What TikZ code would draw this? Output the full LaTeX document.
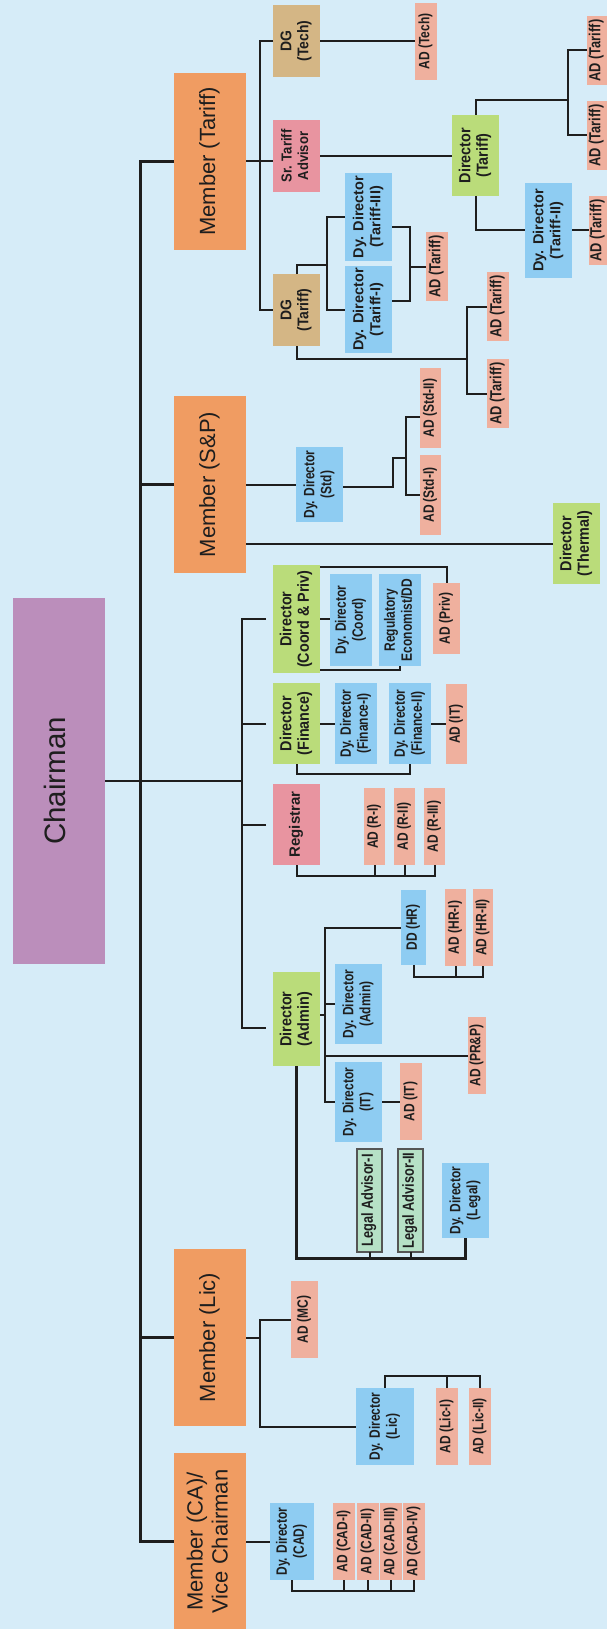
\documentclass[tikz,border=0pt]{standalone}
\usepackage{fontspec}
\setmainfont{Liberation Sans}
\newfontfamily\condA{Liberation Sans}[FakeStretch=0.8]
\newfontfamily\condB{Liberation Sans}[FakeStretch=0.9]
\usetikzlibrary{calc}
\definecolor{bg}{HTML}{D6ECF8}
\definecolor{cpurple}{HTML}{BB8EBB}
\definecolor{corange}{HTML}{F09C62}
\definecolor{ctan}{HTML}{D4B685}
\definecolor{cpink}{HTML}{E894A0}
\definecolor{cgreen}{HTML}{BADC7A}
\definecolor{cblue}{HTML}{8ECCF2}
\definecolor{csalmon}{HTML}{EFB09E}
\definecolor{clegal}{HTML}{B6E1C6}
\definecolor{cline}{HTML}{1E1E1E}
\definecolor{cborder}{HTML}{555555}
\newcommand\orgbox[7]{\node[obox,#6,minimum width={(#4-#2)*1pt},minimum height={(#5-#3)*1pt}] (#1) at ({(#2+#4)/2},{(#3+#5)/2}) {\rotatebox{90}{\begin{tabular}{@{}c@{}}#7\end{tabular}}};}
\tikzset{
  obox/.style={inner sep=0pt,outer sep=0pt,text=cline},
  mem/.style={fill=corange,font=\fontsize{22}{25}\selectfont},
  chairst/.style={fill=cpurple,font=\fontsize{29.5}{33}\selectfont},
  dg/.style={fill=ctan,font=\condB\bfseries\fontsize{15.5}{17}\selectfont},
  pk/.style={fill=cpink,font=\condB\bfseries\fontsize{14.5}{16.5}\selectfont},
  dir/.style={fill=cgreen,font=\condB\bfseries\fontsize{16}{17.5}\selectfont},
  ddb/.style={fill=cblue,font=\condA\bfseries\fontsize{15}{17}\selectfont},
  ddbig/.style={fill=cblue,font=\bfseries\fontsize{14.5}{17}\selectfont},
  ad/.style={fill=csalmon,font=\condA\bfseries\fontsize{15}{17}\selectfont},
  adbig/.style={fill=csalmon,font=\condA\bfseries\fontsize{16}{17}\selectfont},
  legal/.style={fill=clegal,draw=cborder,line width=1.2pt,font=\condA\bfseries\fontsize{16}{17}\selectfont},
  thk/.style={line width=3pt},
  mid/.style={line width=2.6pt}
}
\begin{document}
\begin{tikzpicture}[x=1pt,y=-1pt,line width=2pt,color=cline,line join=miter]
\fill[bg] (0,0) rectangle (607,1629);
\useasboundingbox (0,0) rectangle (607,1629);
% ---------- boxes ----------
\orgbox{chair}{13}{598}{105}{964}{chairst}{Chairman}
\orgbox{mtariff}{174}{73}{246}{250}{mem}{Member (Tariff)}
\orgbox{msp}{174}{396}{246}{573}{mem}{Member (S\&P)}
\orgbox{mlic}{174}{1249}{246}{1426}{mem}{Member (Lic)}
\orgbox{mca}{174}{1453}{246}{1630}{mem}{Member (CA)/\\Vice Chairman}
\orgbox{dgtech}{273}{5}{320}{77}{dg}{DG\\(Tech)}
\orgbox{dgtariff}{273}{274}{320}{346}{dg}{DG\\(Tariff)}
\orgbox{sta}{273}{120}{320}{192}{pk}{Sr. Tariff\\Advisor}
\orgbox{reg}{273}{784}{320}{865}{pk,font=\bfseries\fontsize{15}{17}\selectfont}{Registrar}
\orgbox{dtariff}{452}{115}{499}{196}{dir}{Director\\(Tariff)}
\orgbox{dthermal}{553}{503}{600}{584}{dir}{Director\\(Thermal)}
\orgbox{dcp}{273}{565}{320}{673}{dir}{Director\\(Coord \& Priv)}
\orgbox{dfin}{273}{683}{320}{764}{dir}{Director\\(Finance)}
\orgbox{dadmin}{273}{972}{320}{1066}{dir}{Director\\(Admin)}
\orgbox{ddt2}{525}{183}{572}{278}{ddbig}{Dy. Director\\(Tariff-II)}
\orgbox{ddt3}{345}{173}{392}{261}{ddbig}{Dy. Director\\(Tariff-III)}
\orgbox{ddt1}{345}{266}{392}{353}{ddbig}{Dy. Director\\(Tariff-I)}
\orgbox{ddstd}{296}{447}{343}{522}{ddb}{Dy. Director\\(Std)}
\orgbox{ddcoord}{330}{574}{372}{666}{ddb}{Dy. Director\\(Coord)}
\orgbox{regecon}{379}{574}{421}{666}{ddb}{Regulatory\\Economist/DD}
\orgbox{ddf1}{335}{683}{377}{764}{ddb}{Dy. Director\\(Finance-I)}
\orgbox{ddf2}{389}{683}{431}{764}{ddb}{Dy. Director\\(Finance-II)}
\orgbox{ddhr}{401}{890}{426}{965}{ddb}{DD (HR)}
\orgbox{ddadmin}{335}{964}{382}{1044}{ddb}{Dy. Director\\(Admin)}
\orgbox{ddit}{335}{1062}{382}{1142}{ddb}{Dy. Director\\(IT)}
\orgbox{ddlegal}{442}{1163}{489}{1238}{ddb}{Dy. Director\\(Legal)}
\orgbox{ddlic}{356}{1388}{414}{1465}{ddb}{Dy. Director\\(Lic)}
\orgbox{ddcad}{270}{1503}{314}{1580}{ddb}{Dy. Director\\(CAD)}
\orgbox{adtech}{415}{3}{437}{80}{ad}{AD (Tech)}
\orgbox{adt1}{587}{16}{607}{85}{adbig}{AD (Tariff)}
\orgbox{adt2}{587}{101}{607}{170}{adbig}{AD (Tariff)}
\orgbox{adt3}{589}{196}{607}{265}{adbig}{AD (Tariff)}
\orgbox{adt4}{487}{272}{509}{341}{adbig}{AD (Tariff)}
\orgbox{adt5}{487}{359}{509}{428}{adbig}{AD (Tariff)}
\orgbox{adt6}{426}{232}{448}{301}{adbig}{AD (Tariff)}
\orgbox{adstd2}{420}{368}{441}{448}{ad}{AD (Std-II)}
\orgbox{adstd1}{420}{455}{441}{535}{ad}{AD (Std-I)}
\orgbox{adpriv}{433}{583}{460}{654}{ad}{AD (Priv)}
\orgbox{aditf}{446}{684}{467}{764}{ad}{AD (IT)}
\orgbox{adr1}{364}{788}{385}{865}{ad}{AD (R-I)}
\orgbox{adr2}{394}{788}{415}{865}{ad}{AD (R-II)}
\orgbox{adr3}{424}{788}{445}{865}{ad}{AD (R-III)}
\orgbox{adhr1}{445}{889}{466}{966}{ad}{AD (HR-I)}
\orgbox{adhr2}{473}{889}{493}{966}{ad}{AD (HR-II)}
\orgbox{adprp}{468}{1017}{486}{1094}{ad}{AD (PR\&P)}
\orgbox{adita}{400}{1063}{422}{1140}{ad}{AD (IT)}
\orgbox{admc}{291}{1281}{318}{1358}{ad}{AD (MC)}
\orgbox{adlic1}{436}{1388}{458}{1465}{ad}{AD (Lic-I)}
\orgbox{adlic2}{469}{1388}{491}{1465}{ad}{AD (Lic-II)}
\orgbox{adcad1}{333}{1503}{355}{1580}{ad}{AD (CAD-I)}
\orgbox{adcad2}{357}{1503}{379}{1580}{ad}{AD (CAD-II)}
\orgbox{adcad3}{380}{1503}{402}{1580}{ad}{AD (CAD-III)}
\orgbox{adcad4}{403}{1503}{425}{1580}{ad}{AD (CAD-IV)}
\orgbox{la1}{357}{1149}{382}{1252}{legal}{Legal Advisor-I}
\orgbox{la2}{398}{1149}{423}{1252}{legal}{Legal Advisor-II}
% ---------- bus coordinates ----------
\coordinate (trk) at (140,0);
\coordinate (dbus) at (242,0);
\coordinate (bT) at (260,0);
\coordinate (j1) at (567.7,100);
\coordinate (j2) at (326.7,265);
\coordinate (j3) at (410.3,0);
\coordinate (j4) at (466.7,359);
\coordinate (s2) at (393.3,457.7);
\coordinate (j6) at (405.7,457.7);
\coordinate (j5) at (325,0);
% ---------- trunk ----------
\draw[thk] (mtariff.west) -- (mtariff.west -| trk) -- (mca.west -| trk) -- (mca.west);
\draw[thk] (msp.west) -- (msp.west -| trk);
\draw[thk] (mlic.west) -- (mlic.west -| trk);
% ---------- chairman and directors bus ----------
\draw[mid] (chair.east) -- (chair.east -| dbus);
\coordinate (dcpin) at ($(dcp.west)+(-7,0)$);
\coordinate (dadin) at ($(dadmin.west)+(-7,9)$);
\draw (dcpin) -- (dcpin -| dbus) -- (dadin -| dbus) -- (dadin);
\draw ($(dfin.west)+(-7,0)$) -- (dfin.west -| dbus);
\draw ($(reg.west)+(-7,0)$) -- (reg.west -| dbus);
% ---------- Member (Tariff) ----------
\draw (dgtech.west) -- (dgtech.west -| bT) -- (dgtariff.west -| bT) -- (dgtariff.west);
\draw (mtariff.east) -- (mtariff.east -| sta.west);
\draw (dgtech.east) -- (dgtech.east -| adtech.west);
\draw (sta.east) -- (sta.east -| dtariff.west);
\draw (dtariff.north) |- (j1);
\draw (adt1.west) -| (j1) |- (adt2.west);
\draw (dtariff.south) |- (ddt2.west);
\draw (ddt2.east) -- (ddt2.east -| adt3.west);
\draw (dgtariff.north) |- (j2);
\draw (ddt3.west) -| (j2) |- (ddt1.west);
\coordinate (t3e) at ($(ddt3.east)+(0,10)$);
\coordinate (t1e) at ($(ddt1.east)+(0,-9)$);
\draw (t3e) -- (t3e -| j3) -- (t1e -| j3) -- (t1e);
\draw (adt6.west) -- (adt6.west -| j3);
\draw (dgtariff.south) |- (j4);
\draw (adt4.west) -| (j4) |- (adt5.west);
% ---------- Member (S&P) ----------
\draw (msp.east) -- (ddstd.west);
\coordinate (s1) at ($(ddstd.east)+(0,2)$);
\draw (s1) -| (s2) -- (j6);
\coordinate (a2in) at ($(adstd2.west)+(0,9)$);
\draw (a2in) -| (j6) |- (adstd1.west);
\draw (dthermal.west) -- (dthermal.west -| msp.east);
% ---------- Director (Coord & Priv) ----------
\draw (dcp.east) -- (dcp.east -| ddcoord.west);
\draw ($(dcp.north east)+(0,1.7)$) -| (adpriv.north);
\draw ($(dcp.south east)+(0,-3)$) -| (regecon.south);
% ---------- Director (Finance) ----------
\draw (dfin.east) -- (dfin.east -| ddf1.west);
\draw (ddf2.east) -- (ddf2.east -| aditf.west);
\draw (dfin.south) -- ++(0,10) -| (ddf2.south);
% ---------- Registrar ----------
\draw (reg.south) -- ++(0,11) -| (adr3.south);
\draw (adr1.south) -- ++(0,11);
\draw (adr2.south) -- ++(0,11);
% ---------- Director (Admin) ----------
\draw ($(dadmin.east)+(0,-4)$) -- ++(5,0);
\draw (ddhr.west) -- (ddhr.west -| j5) -- (ddit.west -| j5) -- (ddit.west);
\draw (ddadmin.west) -- (ddadmin.west -| j5);
\draw (adprp.west) -- (adprp.west -| j5);
\draw (ddhr.south) -- ++(0,12.3) -| (adhr2.south);
\draw (adhr1.south) -- ++(0,11.3);
\draw (ddit.east) -- (ddit.east -| adita.west);
\draw[thk] (dadmin.south) -- ++(0,192) -| (ddlegal.south);
\draw (la1.south) -- ++(0,6);
\draw (la2.south) -- ++(0,6);
% ---------- Member (Lic) ----------
\draw (mlic.east) -- (mlic.east -| bT);
\draw (admc.west) -- (admc.west -| bT) -- (ddlic.west -| bT) -- (ddlic.west);
\draw (ddlic.north) -- ++(0,-12) -| (adlic2.north);
\draw (adlic1.north) -- ++(0,-12);
% ---------- Member (CA) ----------
\draw (mca.east) -- (ddcad.west);
\draw (ddcad.south) -- ++(0,11.3) -| (adcad4.south);
\draw (adcad1.south) -- ++(0,11.3);
\draw (adcad2.south) -- ++(0,11.3);
\draw (adcad3.south) -- ++(0,11.3);
\end{tikzpicture}
\end{document}
